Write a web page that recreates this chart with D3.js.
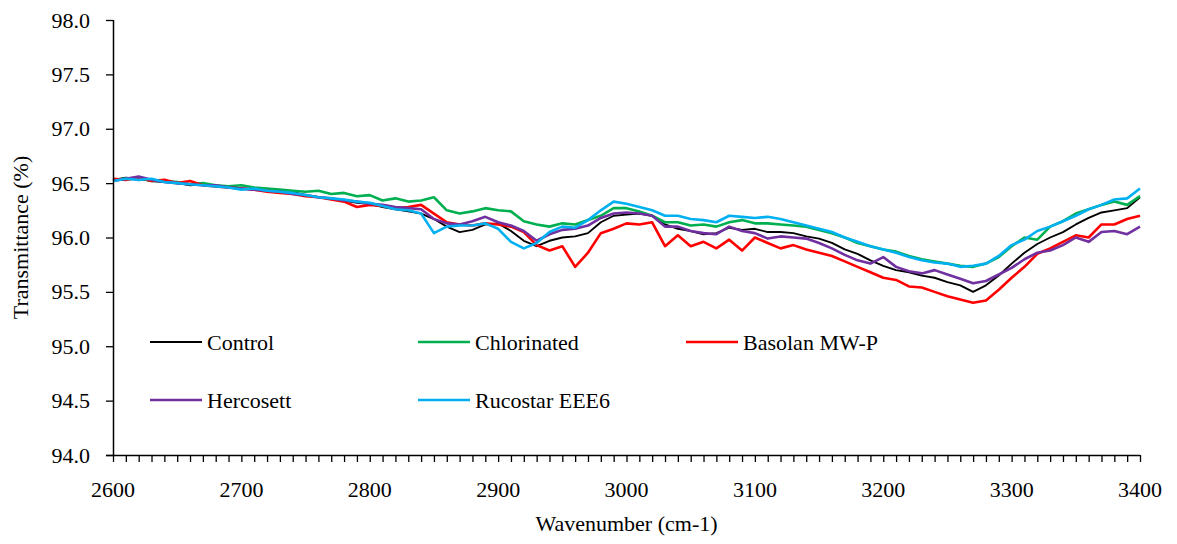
<!DOCTYPE html>
<html><head><meta charset="utf-8">
<script src="https://cdn.jsdelivr.net/npm/d3@7"></script>
<style>body{margin:0;background:#fff}svg{display:block}</style>
</head><body><svg id="c" width="1177" height="544"></svg>
<script>
const wavenumbers = d3.range(2600, 3401, 10);
const seriesNames = ["Control","Chlorinated","Basolan MW-P","Hercosett","Rucostar EEE6"];
const seriesColors = ["#000000","#00B050","#FF0000","#7030A0","#00B0F0"];
const xTicks = [2600,2700,2800,2900,3000,3100,3200,3300,3400];
const yTicks = [94.0,94.5,95.0,95.5,96.0,96.5,97.0,97.5,98.0];

const control = [96.53,96.55,96.54,96.52,96.51,96.50,96.48,96.49,96.47,96.46,96.45,96.44,96.43,96.41,96.42,96.39,96.37,96.36,96.34,96.32,96.31,
96.28,96.26,96.24,96.22,96.17,96.10,96.05,96.07,96.12,96.13,96.06,95.97,95.92,95.97,96.00,96.01,96.04,96.14,96.20,96.21,
96.22,96.20,96.12,96.08,96.06,96.03,96.04,96.09,96.07,96.08,96.05,96.05,96.04,96.01,95.99,95.95,95.89,95.85,95.79,95.74,
95.70,95.68,95.65,95.63,95.59,95.56,95.50,95.56,95.65,95.76,95.86,95.94,96.00,96.05,96.12,96.18,96.23,96.25,96.27,96.37];
const chlorinated = [96.53,96.54,96.55,96.52,96.52,96.51,96.49,96.50,96.48,96.47,96.48,96.46,96.45,96.44,96.43,96.42,96.43,96.40,96.41,96.38,96.39,
96.34,96.36,96.33,96.34,96.37,96.25,96.22,96.24,96.27,96.25,96.24,96.15,96.12,96.10,96.13,96.12,96.16,96.20,96.27,96.27,
96.24,96.20,96.14,96.14,96.11,96.12,96.10,96.14,96.16,96.13,96.13,96.12,96.11,96.10,96.07,96.04,96.00,95.95,95.92,95.89,
95.87,95.83,95.80,95.78,95.76,95.74,95.73,95.76,95.82,95.92,96.00,95.98,96.10,96.15,96.22,96.26,96.30,96.33,96.30,96.38];
const basolan = [96.54,96.53,96.55,96.52,96.53,96.50,96.52,96.48,96.47,96.46,96.45,96.44,96.42,96.41,96.40,96.38,96.37,96.35,96.33,96.28,96.30,
96.29,96.27,96.28,96.30,96.22,96.14,96.12,96.11,96.13,96.12,96.10,96.05,95.93,95.88,95.92,95.73,95.86,96.04,96.08,96.13,
96.12,96.14,95.92,96.02,95.92,95.96,95.90,95.98,95.88,96.00,95.95,95.90,95.93,95.89,95.86,95.83,95.78,95.73,95.68,95.63,
95.61,95.55,95.54,95.50,95.46,95.43,95.40,95.42,95.52,95.63,95.73,95.85,95.90,95.96,96.02,96.00,96.12,96.12,96.17,96.20];
const hercosett = [96.52,96.54,96.56,96.53,96.51,96.50,96.49,96.48,96.48,96.46,96.45,96.44,96.43,96.42,96.40,96.39,96.37,96.36,96.34,96.33,96.31,
96.30,96.28,96.27,96.26,96.17,96.13,96.12,96.15,96.19,96.14,96.11,96.06,95.97,96.03,96.07,96.08,96.11,96.18,96.22,96.23,
96.22,96.20,96.10,96.10,96.06,96.04,96.03,96.10,96.06,96.04,95.99,96.01,96.00,95.99,95.95,95.90,95.84,95.79,95.76,95.82,
95.73,95.69,95.67,95.70,95.66,95.62,95.58,95.60,95.66,95.72,95.80,95.86,95.88,95.93,96.00,95.96,96.05,96.06,96.03,96.10];
const rucostar = [96.52,96.54,96.53,96.54,96.51,96.50,96.49,96.48,96.47,96.46,96.44,96.45,96.43,96.42,96.41,96.39,96.37,96.36,96.35,96.33,96.32,
96.29,96.26,96.25,96.22,96.04,96.10,96.11,96.11,96.13,96.08,95.96,95.90,95.95,96.05,96.10,96.09,96.16,96.25,96.33,96.31,
96.28,96.25,96.20,96.20,96.17,96.16,96.14,96.20,96.19,96.18,96.19,96.17,96.14,96.11,96.08,96.05,96.00,95.96,95.92,95.89,
95.86,95.82,95.79,95.77,95.76,95.73,95.74,95.76,95.83,95.93,95.98,96.06,96.10,96.15,96.20,96.26,96.30,96.35,96.36,96.45];
const seriesValues = [control, chlorinated, basolan, hercosett, rucostar];

const FONT = "'Liberation Serif','Times New Roman',Tinos,'Nimbus Roman','DejaVu Serif',serif";
const svg = d3.select("#c").attr("font-family", FONT);
const L = 113, R = 1140, T = 20, B = 455;
const x = d3.scaleLinear().domain([2600,3400]).range([L,R]);
const y = d3.scaleLinear().domain([94,98]).range([B,T]);

// lines
const line = d3.line().x(d => x(d[0])).y(d => y(d[1]));
seriesValues.forEach((vals, i) => {
  svg.append("path")
    .datum(wavenumbers.map((w, j) => [w, vals[j]]))
    .attr("fill","none")
    .attr("stroke", seriesColors[i])
    .attr("stroke-width", i === 0 ? 1.9 : 2.6)
    .attr("stroke-linejoin","round")
    .attr("d", line);
});

// x axis with minor ticks
const xAxis = d3.axisBottom(x).tickValues(d3.range(2600,3401,10)).tickSize(7).tickFormat("");
const gx = svg.append("g").attr("transform",`translate(0,${B})`).call(xAxis);
gx.select(".domain").attr("d", `M${L-7},0.5H${R}`).attr("stroke","#000").attr("stroke-width",1.5);
gx.selectAll(".tick line").attr("stroke","#000").attr("stroke-width",1.3);
svg.append("g").selectAll("text").data(xTicks).join("text")
  .attr("x", d => x(d)).attr("y", 497).attr("text-anchor","middle")
  .attr("font-family", FONT).attr("font-size", 22).attr("fill","#000").text(d => d);

// y axis
const yAxis = d3.axisLeft(y).tickValues(yTicks).tickSize(7).tickFormat(d => d.toFixed(1)).tickPadding(16);
const gy = svg.append("g").attr("transform",`translate(${L},0)`).call(yAxis);
gy.attr("font-family", FONT).attr("font-size", 22);
gy.select(".domain").attr("d", `M0.5,${T}V${B}`).attr("stroke","#000").attr("stroke-width",1.5);
gy.selectAll(".tick line").attr("stroke","#000").attr("stroke-width",1.3);
gy.selectAll(".tick text").attr("font-family", FONT).attr("font-size", 22).attr("fill","#000");

// axis titles
svg.append("text").attr("x", (L+R)/2).attr("y", 531).attr("text-anchor","middle")
  .attr("font-family", FONT).attr("font-size", 22).text("Wavenumber (cm-1)");
svg.append("text").attr("transform",`translate(28,${(T+B)/2}) rotate(-90)`).attr("text-anchor","middle")
  .attr("font-family", FONT).attr("font-size", 22).text("Transmittance (%)");

// legend
const legPos = [[150,342],[418,342],[686,342],[150,400],[418,400]];
seriesNames.forEach((n, i) => {
  const [lx, ly] = legPos[i];
  svg.append("line").attr("x1",lx).attr("x2",lx+52).attr("y1",ly).attr("y2",ly)
    .attr("stroke",seriesColors[i]).attr("stroke-width", i === 0 ? 1.9 : 2.6);
  svg.append("text").attr("x", lx+57).attr("y", ly+8)
    .attr("font-family", FONT).attr("font-size", 22).text(n);
});
</script></body></html>
